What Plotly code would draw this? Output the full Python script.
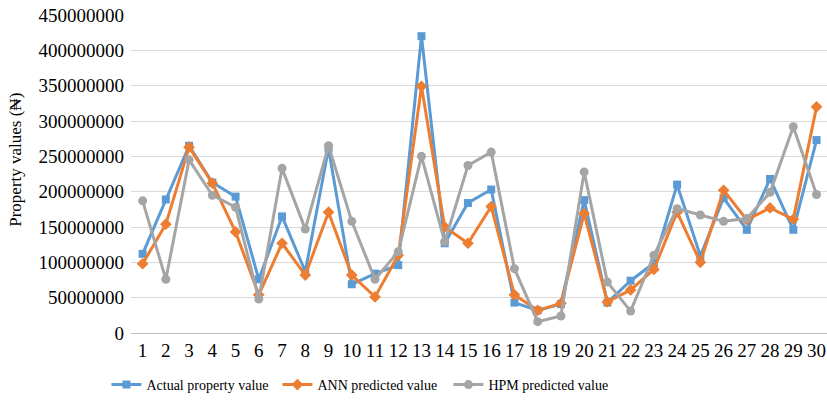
import plotly.graph_objects as go

categories = list(range(1, 31))
actual = [112e6, 189e6, 265e6, 213e6, 193e6, 76e6, 165e6, 87e6, 261e6, 69e6,
          84e6, 96e6, 420e6, 127e6, 184e6, 203e6, 43e6, 32e6, 41e6, 188e6,
          43e6, 74e6, 99e6, 210e6, 109e6, 191e6, 146e6, 218e6, 146e6, 273e6]
ann = [98e6, 154e6, 263e6, 212e6, 143e6, 54e6, 127e6, 82e6, 171e6, 82e6,
       51e6, 110e6, 349e6, 150e6, 127e6, 179e6, 54e6, 32e6, 42e6, 169e6,
       44e6, 61e6, 90e6, 171e6, 100e6, 202e6, 160e6, 177e6, 161e6, 320e6]
hpm = [187e6, 76e6, 245e6, 195e6, 178e6, 48e6, 233e6, 147e6, 265e6, 158e6,
       76e6, 115e6, 250e6, 129e6, 237e6, 256e6, 91e6, 16e6, 24e6, 228e6,
       72e6, 31e6, 110e6, 176e6, 167e6, 158e6, 162e6, 199e6, 292e6, 196e6]
y_ticks = list(range(0, 450000001, 50000000))

FONT = "Liberation Serif, Times New Roman, DejaVu Serif, serif"

fig = go.Figure()
series = [
    ("Actual property value", actual, "#5B9BD5", "square", 8),
    ("ANN predicted value", ann, "#ED7D31", "diamond", 9),
    ("HPM predicted value", hpm, "#A5A5A5", "circle", 9),
]
for name, vals, col, sym, size in series:
    fig.add_trace(go.Scatter(
        x=categories, y=vals, name=name, mode="lines+markers",
        line=dict(color=col, width=3),
        marker=dict(symbol=sym, size=size, color=col),
    ))

fig.update_layout(
    width=827, height=406,
    margin=dict(l=131, r=0, t=15, b=73, autoexpand=False),
    paper_bgcolor="white", plot_bgcolor="white",
    font=dict(family=FONT, size=16, color="#000000"),
    showlegend=True,
    legend=dict(orientation="h", xref="container", yref="container",
                x=0.1287, xanchor="left", y=0.0517, yanchor="middle",
                entrywidth=126, entrywidthmode="pixels",
                font=dict(family=FONT, size=14), itemwidth=30),
    annotations=[dict(text="Property values (₦)", textangle=-90,
                      xref="paper", yref="paper", x=-0.167, y=0.544,
                      xanchor="center", yanchor="middle", showarrow=False,
                      font=dict(family=FONT, size=17))],
)
fig.update_xaxes(
    range=[0.5, 30.45], tickmode="array", tickvals=categories,
    ticktext=[str(c) for c in categories], showgrid=False,
    showline=False, zeroline=False, ticks="", ticklen=0,
    ticklabelstandoff=4, automargin=False, ticklabeloverflow="allow",
    tickfont=dict(family=FONT, size=19),
)
fig.update_yaxes(
    range=[0, 450000000], tickmode="array", tickvals=y_ticks,
    ticktext=[str(v) for v in y_ticks], showgrid=True,
    gridcolor="#D9D9D9", gridwidth=1, zeroline=True,
    zerolinecolor="#BFBFBF", zerolinewidth=1, showline=False,
    ticklabelstandoff=6, automargin=False, ticklabeloverflow="allow",
    tickfont=dict(family=FONT, size=19),
)

fig.write_html(
    "out.html",
    config={"displayModeBar": False},
    post_script="document.body.style.margin='0';document.body.style.overflow='hidden';",
)
